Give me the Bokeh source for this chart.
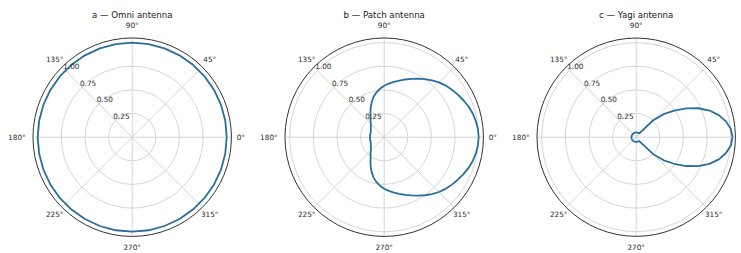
import numpy as np
from bokeh.plotting import figure
from bokeh.models import Range1d
from bokeh.embed import file_html
from bokeh.resources import INLINE
from bokeh.core.properties import value

# ---------------- data ----------------
titles = ["a — Omni antenna", "b — Patch antenna", "c — Yagi antenna"]
theta_ticks = [0, 45, 90, 135, 180, 225, 270, 315]
theta_tick_labels = ["0°", "45°", "90°", "135°", "180°", "225°", "270°", "315°"]
r_ticks = [0.25, 0.50, 0.75, 1.00]
r_tick_labels = ["0.25", "0.50", "0.75", "1.00"]
r_max = 1.05

omni_deg = list(range(0, 360, 10))
omni_r = [1.00, 1.00, 1.00, 1.00, 1.00, 1.00, 1.00, 1.00, 1.00, 1.00, 1.00, 1.00,
          1.00, 1.00, 1.00, 1.00, 1.00, 1.00, 1.00, 1.00, 1.00, 1.00, 1.00, 1.00,
          1.00, 1.00, 1.00, 1.00, 1.00, 1.00, 1.00, 1.00, 1.00, 1.00, 1.00, 1.00]

patch_deg = list(range(0, 360, 5))
patch_r = [1.00, 0.995, 0.985, 0.97, 0.95, 0.925, 0.90, 0.875, 0.85, 0.82, 0.785, 0.75,
           0.715, 0.68, 0.65, 0.62, 0.595, 0.57, 0.545, 0.515, 0.48, 0.44, 0.39, 0.34,
           0.29, 0.25, 0.225, 0.20, 0.185, 0.172, 0.163, 0.157, 0.152, 0.15, 0.152, 0.15,
           0.15,
           0.15, 0.152, 0.15, 0.152, 0.157, 0.163, 0.172, 0.185, 0.20, 0.225, 0.25, 0.29,
           0.34, 0.39, 0.44, 0.48, 0.515, 0.545, 0.57, 0.595, 0.62, 0.65, 0.68, 0.715,
           0.75, 0.785, 0.82, 0.85, 0.875, 0.90, 0.925, 0.95, 0.97, 0.985, 0.995]

yagi_deg = list(range(0, 360, 5))
yagi_r = [1.02, 1.005, 0.965, 0.905, 0.825, 0.725, 0.61, 0.49, 0.38, 0.25, 0.06, 0.05,
          0.05, 0.05, 0.05, 0.05, 0.05, 0.05, 0.05, 0.05, 0.05, 0.05, 0.05, 0.05,
          0.05, 0.05, 0.05, 0.05, 0.05, 0.05, 0.05, 0.05, 0.05, 0.05, 0.05, 0.05,
          0.05,
          0.05, 0.05, 0.05, 0.05, 0.05, 0.05, 0.05, 0.05, 0.05, 0.05, 0.05, 0.05,
          0.05, 0.05, 0.05, 0.05, 0.05, 0.05, 0.05, 0.05, 0.05, 0.05, 0.05, 0.05,
          0.05, 0.06, 0.25, 0.38, 0.49, 0.61, 0.725, 0.825, 0.905, 0.965, 1.005]

series = [(omni_deg, omni_r), (patch_deg, patch_r), (yagi_deg, yagi_r)]

# ---------------- layout (pixels) ----------------
W, H = 741, 253
S = 94.5                      # pixels per radial unit
page_left, page_top = 0, 0
centers_px = [131.7, 383.7, 635.7]
center_y_px = 136.7
title_y_px = 14.3
label_r = {0: 1.15, 45: 1.16, 90: 1.18, 135: 1.16, 180: 1.22, 225: 1.16, 270: 1.17, 315: 1.16}

FONT = value("DejaVu Sans")
LINE_C = "#2a6f9c"
GRID_C = "#d0d0d0"
TEXT_C = "#2b2b2b"

x_max = W / S
y_max = H / S

def px_to_x(px):
    return (px - page_left) / S

def px_to_y(py):
    return (page_top + H - py) / S

p = figure(width=W, height=H, output_backend="svg", toolbar_location=None,
           x_range=Range1d(0, x_max), y_range=Range1d(0, y_max),
           min_border=0, min_border_left=0, min_border_right=0,
           min_border_top=0, min_border_bottom=0)
p.axis.visible = False
p.grid.visible = False
p.outline_line_color = None
p.background_fill_color = "white"
p.border_fill_color = "white"

cy = px_to_y(center_y_px)
for i, (deg, rr) in enumerate(series):
    cx = px_to_x(centers_px[i])
    n = min(len(deg), len(rr))
    deg, rr = list(deg[:n]), list(rr[:n])
    # radial grid rings
    p.circle(x=[cx] * len(r_ticks), y=[cy] * len(r_ticks), radius=r_ticks,
             fill_color=None, line_color=GRID_C, line_width=0.9)
    # angular grid spokes
    ang = np.deg2rad(np.array(theta_ticks[:4], dtype=float))
    p.segment(x0=cx - r_max * np.cos(ang), y0=cy - r_max * np.sin(ang),
              x1=cx + r_max * np.cos(ang), y1=cy + r_max * np.sin(ang),
              line_color=GRID_C, line_width=0.9)
    # data curve
    t = np.deg2rad(np.array(deg + [deg[0]], dtype=float))
    r = np.array(rr + [rr[0]], dtype=float)
    p.line(cx + r * np.cos(t), cy + r * np.sin(t), line_color=LINE_C, line_width=1.8)
    # outer spine
    p.circle(x=[cx], y=[cy], radius=r_max, fill_color=None,
             line_color="#333333", line_width=1.0)
    # angle tick labels
    lx, ly, lt = [], [], []
    for d, lab in zip(theta_ticks, theta_tick_labels):
        a = np.deg2rad(d)
        x = cx + label_r[d] * np.cos(a)
        y = cy + label_r[d] * np.sin(a)
        if x + 0.05 > x_max:
            continue
        lx.append(x); ly.append(y); lt.append(lab)
    p.text(x=lx, y=ly, text=lt, text_font=FONT, text_font_size="7.3px",
           text_align="center", text_baseline="middle", text_color=TEXT_C)
    # radial tick labels at 135 degrees
    a = np.deg2rad(135.0)
    rx = [cx + rv * np.cos(a) for rv in r_ticks]
    ry = [cy + rv * np.sin(a) for rv in r_ticks]
    p.text(x=rx, y=ry, text=r_tick_labels, text_font=FONT, text_font_size="7.3px",
           text_align="center", text_baseline="middle", text_color=TEXT_C,
           x_offset=6, y_offset=-4.5)
    # panel title
    p.text(x=[cx], y=[px_to_y(title_y_px)], text=[titles[i]], text_font=FONT,
           text_font_size="8.6px", text_align="center", text_baseline="middle",
           text_color="#1a1a1a")

open("out.html", "w").write(file_html(p, INLINE))
